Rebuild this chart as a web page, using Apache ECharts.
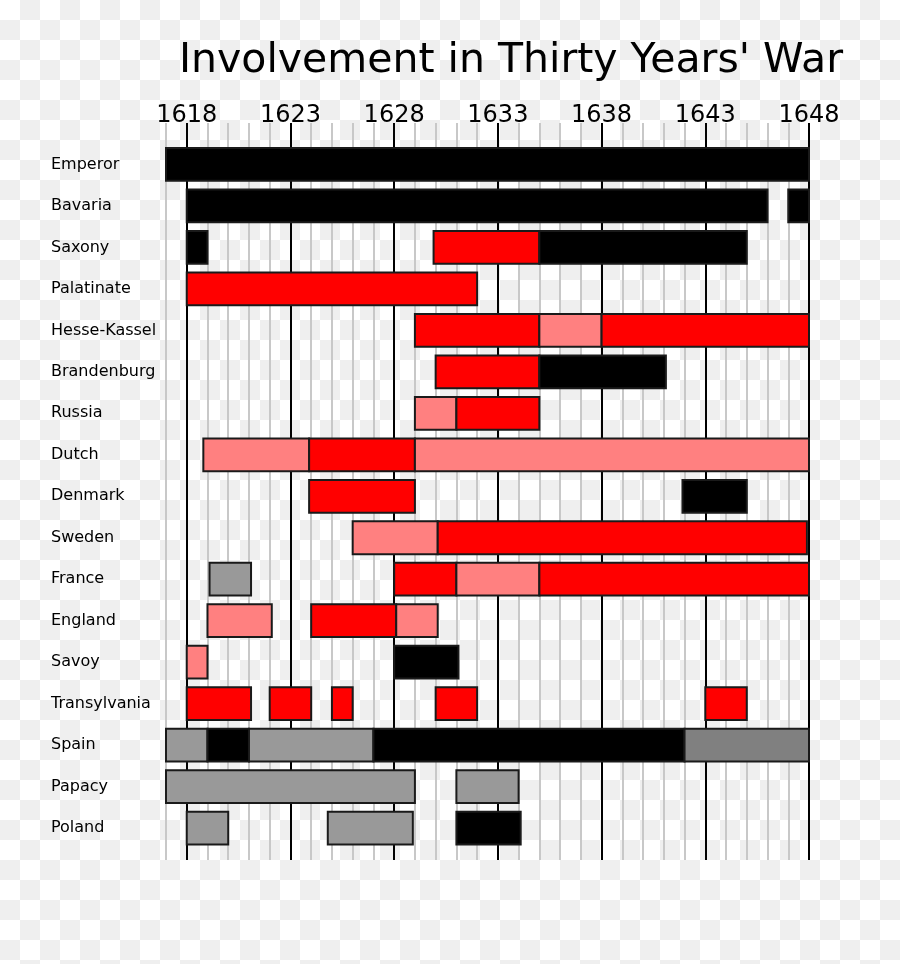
<!DOCTYPE html>
<html>
<head>
<meta charset="utf-8">
<script src="https://cdn.jsdelivr.net/npm/echarts@6/dist/echarts.min.js"></script>
<style>
  html, body { margin: 0; padding: 0; }
  body {
    width: 900px; height: 964px;
    background: repeating-conic-gradient(#efefef 0 25%, #ffffff 0 50%) 0 0 / 40px 40px;
  }
  #chart { width: 900px; height: 964px; }
</style>
</head>
<body>
<div id="chart"></div>
<script>
// ---- data ----
const titleText = "Involvement in Thirty Years' War";
const countries = ['Emperor','Bavaria','Saxony','Palatinate','Hesse-Kassel','Brandenburg','Russia','Dutch','Denmark','Sweden','France','England','Savoy','Transylvania','Spain','Papacy','Poland'];
const yearMin = 1617;
const yearMax = 1648;
const labelYears = [1618, 1623, 1628, 1633, 1638, 1643, 1648];

// segments: row index, start year, end year, kind
const segRow   = [0,  1, 1,  2, 2, 2,  3,  4, 4, 4,  5, 5,  6, 6,  7, 7, 7,  8, 8,  9, 9,  10, 10, 10, 10,  11, 11, 11,  12, 12,  13, 13, 13, 13, 13,  14, 14, 14, 14, 14,  15, 15,  16, 16, 16];
const segStart = [1617, 1618, 1647, 1618, 1629.9, 1635, 1618, 1629, 1635, 1638, 1630, 1635, 1629, 1631, 1618.8, 1623.9, 1629, 1623.9, 1641.9, 1626, 1630.1, 1619.1, 1628, 1631, 1635, 1619, 1624, 1628.1, 1618, 1628, 1618, 1622, 1625, 1630, 1643, 1617, 1619, 1621, 1627, 1642, 1617, 1631, 1618, 1624.8, 1631];
const segEnd   = [1648, 1646, 1648, 1619, 1635, 1645, 1632, 1635, 1638, 1648, 1635, 1641.1, 1631, 1635, 1623.9, 1629, 1648, 1629, 1645, 1630.1, 1647.9, 1621.1, 1631, 1635, 1648, 1622.1, 1628.1, 1630.1, 1619, 1631.1, 1621.1, 1624, 1626, 1632, 1645, 1619, 1621, 1627, 1642, 1648, 1629, 1634, 1620, 1628.9, 1634.1];
const segKind  = ['black','black','black','black','red','black','red','red','pink','red','red','black','pink','red','pink','red','pink','red','black','pink','red','gray','red','pink','red','pink','red','pink','pink','black','red','red','red','red','red','gray','black','gray','black','dark','gray','gray','gray','gray','black'];

// ---- styles ----
const kindColor = { black: '#000000', red: '#ff0000', pink: '#ff8080', gray: '#999999', dark: '#808080' };
const FONT = 'DejaVu Sans';

const seriesData = segRow.map((r, i) => [segStart[i], segEnd[i], r, segKind[i]]);

const chart = echarts.init(document.getElementById('chart'), null, { renderer: 'canvas' });

chart.setOption({
  backgroundColor: 'transparent',
  animation: false,
  title: {
    text: titleText,
    left: 174,
    top: 36,
    textStyle: { fontFamily: FONT, fontSize: 41, fontWeight: 'normal', color: '#000' }
  },
  grid: { left: 166, right: 91, top: 123, bottom: 104, containLabel: false },
  xAxis: {
    type: 'value',
    position: 'top',
    min: yearMin,
    max: yearMax,
    interval: 1,
    axisLine: { show: false },
    axisTick: { show: false },
    axisLabel: {
      margin: -5,
      fontFamily: FONT,
      fontSize: 24,
      color: '#000',
      formatter: v => labelYears.indexOf(Math.round(v)) >= 0 ? String(Math.round(v)) : ''
    },
    splitLine: {
      show: true,
      lineStyle: { width: 2, color: ['#c8c8c8', '#000000', '#c8c8c8', '#c8c8c8', '#c8c8c8'] }
    }
  },
  yAxis: {
    type: 'value',
    inverse: true,
    min: -1,
    max: 16.77,
    interval: 1,
    axisLine: { show: false },
    axisTick: { show: false },
    splitLine: { show: false },
    axisLabel: {
      align: 'left',
      margin: 115,
      fontFamily: FONT,
      fontSize: 16,
      color: '#000',
      padding: [2, 0, 0, 0],
      formatter: v => {
        const i = Math.round(v);
        return Math.abs(v - i) < 1e-6 && countries[i] ? countries[i] : '';
      }
    }
  },
  series: [{
    type: 'custom',
    clip: false,
    encode: { x: [0, 1], y: 2 },
    data: seriesData,
    renderItem: (params, api) => {
      const s = api.coord([api.value(0), api.value(2)]);
      const e = api.coord([api.value(1), api.value(2)]);
      const h = api.size([0, 1])[1] * 0.79;
      const kind = seriesData[params.dataIndex][3];
      return {
        type: 'rect',
        shape: { x: s[0], y: s[1] - h / 2, width: e[0] - s[0], height: h },
        style: { fill: kindColor[kind], stroke: '#1a1a1a', lineWidth: 2 }
      };
    }
  }]
});
</script>
</body>
</html>
